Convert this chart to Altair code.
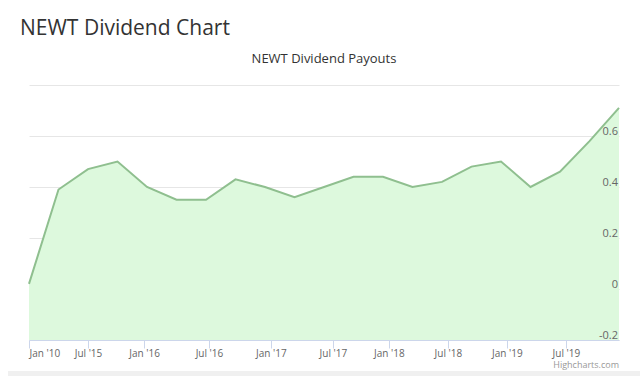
import altair as alt
import pandas as pd

# data (points are equally spaced: ordinal axis)
point_index = list(range(21))
payouts = [0.02, 0.39, 0.47, 0.50, 0.40, 0.35, 0.35, 0.43, 0.40, 0.36, 0.40,
           0.44, 0.44, 0.40, 0.42, 0.48, 0.50, 0.40, 0.46, 0.58, 0.71]
tick_pos = [0, 2.0, 3.9, 6.1, 8.2, 10.3, 12.2, 14.2, 16.2, 18.2]
tick_labels = ["Jan '10", "Jul '15", "Jan '16", "Jul '16", "Jan '17",
               "Jul '17", "Jan '18", "Jul '18", "Jan '19", "Jul '19"]
y_grid = [-0.2, 0, 0.2, 0.4, 0.6, 0.8]
y_label_vals = [-0.2, 0, 0.2, 0.4, 0.6]
y_label_text = ["-0.2", "0", "0.2", "0.4", "0.6"]

df = pd.DataFrame({"i": point_index, "v": payouts})
ylab = pd.DataFrame({"v": y_label_vals, "t": y_label_text})

label_expr = "''"
for p, l in reversed(list(zip(tick_pos, tick_labels))):
    esc = l.replace("'", "\\'")
    label_expr = f"abs(datum.value - {p}) < 0.01 ? '{esc}' : ({label_expr})"

FONT = "Open Sans"

x = alt.X("i:Q", scale=alt.Scale(domain=[0, 20], nice=False, zero=False),
          axis=alt.Axis(values=tick_pos, labelExpr=label_expr, title=None, grid=False,
                        domainColor="#ccd6eb", tickColor="#ccd6eb", tickSize=8,
                        labelColor="#666666", labelFontSize=10, labelFont=FONT,
                        labelPadding=0, labelFlush=True))
yscale = alt.Scale(domain=[-0.2, 0.8], nice=False, zero=False)
y = alt.Y("v:Q", scale=yscale,
          axis=alt.Axis(orient="right", values=y_grid, title=None, labels=False,
                        domain=False, ticks=False, grid=True, gridColor="#e6e6e6"))

area = alt.Chart(df).mark_area(color="#ddf9dd", opacity=1,
                               line={"color": "#8fbf8f", "strokeWidth": 2}).encode(
    x=x, y=y, y2=alt.datum(-0.2))

ylabels = alt.Chart(ylab).mark_text(
    align="right", baseline="alphabetic", dy=-1, fontSize=11, font=FONT, color="#666666"
).encode(text="t:N", x=alt.value(589), y=y)

head = alt.Chart(pd.DataFrame({"t": ["NEWT Dividend Chart"]})).mark_text(
    align="left", baseline="alphabetic", fontSize=21, font=FONT, color="#333333"
).encode(text="t:N", x=alt.value(-9), y=alt.value(-50))

sub = alt.Chart(pd.DataFrame({"t": ["NEWT Dividend Payouts"]})).mark_text(
    align="center", baseline="alphabetic", fontSize=13, font=FONT, color="#333333"
).encode(text="t:N", x=alt.value(295), y=alt.value(-22))

credit = alt.Chart(pd.DataFrame({"t": ["Highcharts.com"]})).mark_text(
    align="right", baseline="alphabetic", fontSize=9, font=FONT, color="#999999"
).encode(text="t:N", x=alt.value(590), y=alt.value(283))

band = alt.Chart(pd.DataFrame({"a": [0]})).mark_rect(color="#f0f0f0").encode(
    x=alt.value(-21), x2=alt.value(611), y=alt.value(286), y2=alt.value(291))

chart = alt.layer(band, area, ylabels, head, sub, credit).properties(
    width=590, height=255,
    autosize=alt.AutoSizeParams(type="none"),
    padding={"left": 29, "top": 85, "right": 21, "bottom": 36},
).configure_view(stroke=None)

chart.save("out.html", embed_options={"renderer": "svg", "actions": False})
